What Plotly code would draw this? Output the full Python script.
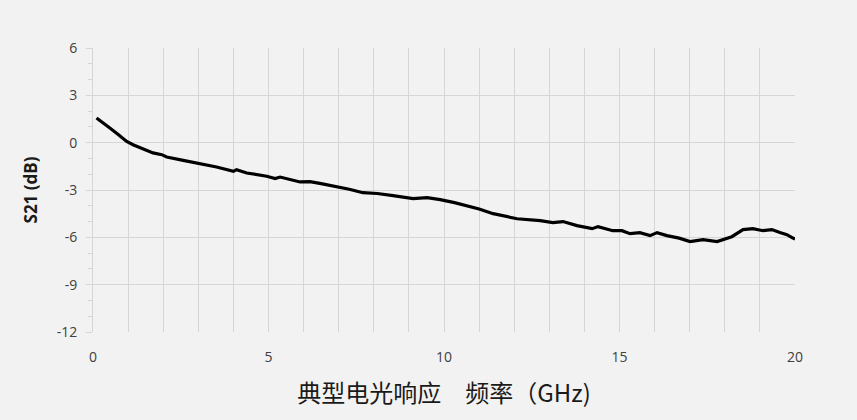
import plotly.graph_objects as go

freq_ghz = [0.1, 0.3, 0.48, 0.7, 0.96, 1.14, 1.4, 1.71, 1.96, 2.1, 2.57, 3.05, 3.52, 4.0, 4.09,
            4.38, 4.95, 5.19, 5.33, 5.9, 6.18, 6.5, 6.95, 7.3, 7.69, 8.1, 8.55, 9.12, 9.52, 9.89,
            10.3, 10.66, 11.0, 11.4, 12.08, 12.74, 13.1, 13.39, 13.79, 14.22, 14.39, 14.81,
            15.07, 15.3, 15.58, 15.87, 16.07, 16.35, 16.7, 17.01, 17.38, 17.78, 18.06, 18.2,
            18.52, 18.8, 19.09, 19.34, 19.57, 19.77, 19.94, 20.0]
s21_db = [1.56, 1.25, 0.93, 0.55, 0.08, -0.13, -0.35, -0.65, -0.76, -0.91, -1.12, -1.33, -1.54,
          -1.82, -1.71, -1.92, -2.13, -2.28, -2.18, -2.49, -2.47, -2.6, -2.79, -2.95, -3.17,
          -3.22, -3.36, -3.55, -3.49, -3.61, -3.8, -3.99, -4.2, -4.5, -4.82, -4.94, -5.07,
          -5.0, -5.26, -5.45, -5.32, -5.58, -5.58, -5.77, -5.7, -5.89, -5.7, -5.89, -6.05,
          -6.27, -6.15, -6.27, -6.08, -5.96, -5.51, -5.45, -5.58, -5.51, -5.7, -5.83, -6.05, -6.1]

x_ticks = [0, 5, 10, 15, 20]
y_ticks = [-12, -9, -6, -3, 0, 3, 6]

grid = "#d6d6d6"
bg = "#f2f2f2"

fig = go.Figure()
fig.add_trace(go.Scatter(x=freq_ghz, y=s21_db, mode="lines",
                         line=dict(color="#000000", width=3.2), showlegend=False))

fig.update_layout(
    width=857, height=420,
    paper_bgcolor=bg, plot_bgcolor=bg,
    margin=dict(l=93, r=62, t=48, b=88),
    font=dict(family="Open Sans, Noto Sans CJK SC", color="#404040"),
)
fig.update_xaxes(
    range=[0, 20], tickvals=x_ticks, ticktext=[str(v) for v in x_ticks],
    showgrid=True, gridcolor=grid, gridwidth=1,
    minor=dict(dtick=1, showgrid=True, gridcolor=grid, gridwidth=1),
    zeroline=False, showline=False, ticks="", ticklabelstandoff=15,
    tickfont=dict(size=14, color="#404040"),
    title=dict(text="典型电光响应\u3000频率（GHz)",
               font=dict(family="Noto Sans CJK SC", size=24, color="#1a1a1a"), standoff=20),
)
fig.update_yaxes(
    range=[-12, 6], tickvals=y_ticks, ticktext=[str(v) for v in y_ticks],
    showgrid=True, gridcolor=grid, gridwidth=1.3,
    zeroline=False, showline=True, linecolor=grid, linewidth=1,
    ticks="outside", ticklen=6, tickcolor=grid, tickwidth=1, ticklabelstandoff=6,
    minor=dict(dtick=1, tick0=0, ticks="outside", ticklen=4, tickcolor=grid, showgrid=False),
    tickfont=dict(size=14, color="#404040"),
    title=dict(text="<b>S21 (dB)</b>", font=dict(size=17, color="#1a1a1a"), standoff=14),
)

fig.write_html("out.html", config={"displayModeBar": False},
               post_script="document.body.style.margin='0';document.body.style.background='#f2f2f2';")
